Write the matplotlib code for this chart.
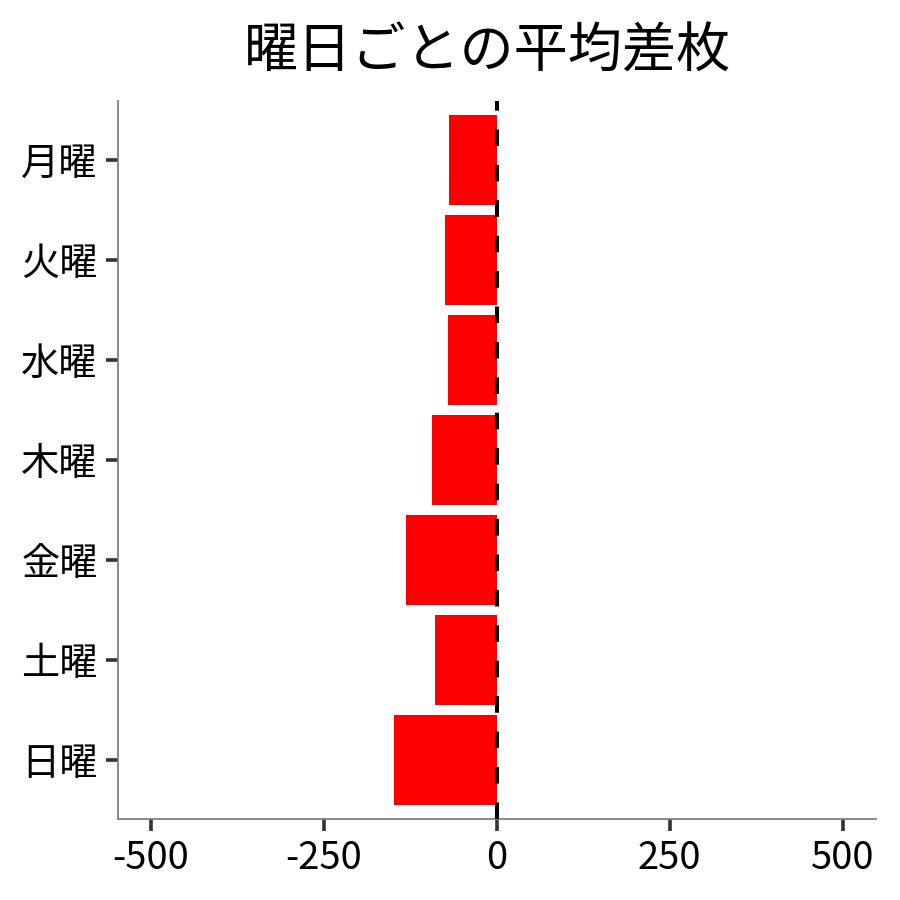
import matplotlib
matplotlib.use("Agg")
import matplotlib.pyplot as plt

plt.rcParams['font.family'] = ['Noto Sans CJK JP', 'DejaVu Sans']
plt.rcParams['lines.scale_dashes'] = False

days = ["月曜", "火曜", "水曜", "木曜", "金曜", "土曜", "日曜"]
values = [-69, -75, -70, -93, -132, -89, -148]
xticks = [-500, -250, 0, 250, 500]
title = "曜日ごとの平均差枚"

fig = plt.figure(figsize=(9, 9), dpi=100)
ax = fig.add_axes([0.131, 0.09, 0.842, 0.798])

ypos = list(range(len(days)))
ax.barh(ypos, values, height=0.9, color="#ff0000", zorder=2)
ax.axvline(0, color="black", linewidth=2.9, dashes=(12, 13.5), zorder=3)

ax.set_yticks(ypos)
ax.set_yticklabels(days)
ax.set_ylim(6.59, -0.59)
ax.set_xlim(-548, 548)
ax.set_xticks(xticks)
ax.set_xticklabels([str(t) for t in xticks])

for s in ["top", "right"]:
    ax.spines[s].set_visible(False)
for s in ["left", "bottom"]:
    ax.spines[s].set_color("#808080")
    ax.spines[s].set_linewidth(1.3)

ax.tick_params(axis="both", length=8.5, width=2.6, color="#333333",
               labelsize=27.5, labelcolor="black", pad=6)

ax.set_title(title, fontsize=39, pad=24, x=0.488)

fig.savefig("out.png", dpi=100)
